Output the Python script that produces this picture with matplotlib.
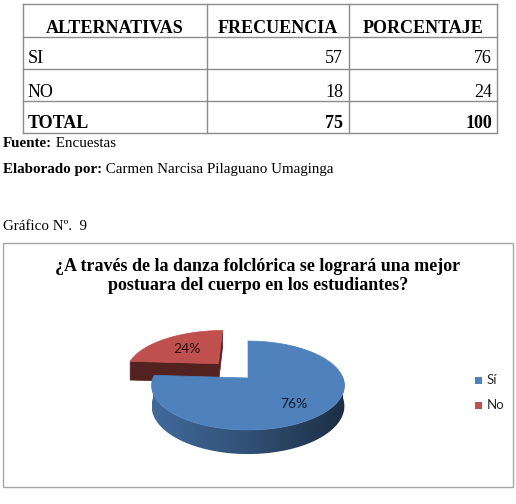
import numpy as np
import matplotlib.pyplot as plt
from matplotlib.patches import Polygon, Rectangle
from matplotlib.colors import to_rgb, LinearSegmentedColormap

# table data
headers = ["ALTERNATIVAS", "FRECUENCIA", "PORCENTAJE"]
alternativas = ["SI", "NO"]
frecuencia = [57, 18]
porcentaje = [76, 24]

# chart data
title_lines = ["¿A través de la danza folclórica se logrará una mejor",
               "postuara del cuerpo en los estudiantes?"]
legend_labels = ["Sí", "No"]
top_colors = ["#4F81BD", "#C0504D"]

SERIF = ["Liberation Serif", "DejaVu Serif"]
SANS = ["Lato", "DejaVu Sans"]

W, H = 516, 504
fig = plt.figure(figsize=(W / 100, H / 100), dpi=100)
ax = fig.add_axes([0, 0, 1, 1])
ax.set_xlim(0, W)
ax.set_ylim(H, 0)
ax.axis("off")

# ---- table ----
col_x = [23, 207, 349, 497]
row_y = [4, 37, 69, 101, 133]
grid_color = "#8c8c8c"
for y in row_y:
    ax.plot([col_x[0], col_x[-1]], [y, y], color=grid_color, lw=1)
for x in col_x:
    ax.plot([x, x], [row_y[0], row_y[-1]], color=grid_color, lw=1)

for i, h in enumerate(headers):
    ax.text((col_x[i] + col_x[i + 1]) / 2, 33, h, ha="center", va="baseline",
            fontsize=13, fontweight="bold", family=SERIF)

baselines = [63, 97]
for alt, f, p, yb in zip(alternativas, frecuencia, porcentaje, baselines):
    ax.text(col_x[0] + 5, yb, alt, ha="left", va="baseline", fontsize=13, family=SERIF)
    ax.text(col_x[2] - 6, yb, str(f), ha="right", va="baseline", fontsize=13, family=SERIF)
    ax.text(col_x[3] - 5, yb, str(p), ha="right", va="baseline", fontsize=13, family=SERIF)

ax.text(col_x[0] + 5, 128, "TOTAL", ha="left", va="baseline", fontsize=13,
        fontweight="bold", family=SERIF)
ax.text(col_x[2] - 6, 128, str(sum(frecuencia)), ha="right", va="baseline",
        fontsize=13, fontweight="bold", family=SERIF)
ax.text(col_x[3] - 5, 128, str(sum(porcentaje)), ha="right", va="baseline",
        fontsize=13, fontweight="bold", family=SERIF)

# ---- notes ----
t = ax.text(3, 147, "Fuente:", ha="left", va="baseline", fontsize=10.8,
            fontweight="bold", family=SERIF)
ax.annotate(" Encuestas", xycoords=t, xy=(1, 0), va="bottom", ha="left",
            fontsize=10.8, family=SERIF)
t = ax.text(3, 173, "Elaborado por:", ha="left", va="baseline", fontsize=10.8,
            fontweight="bold", family=SERIF)
ax.annotate(" Carmen Narcisa Pilaguano Umaginga", xycoords=t, xy=(1, 0),
            va="bottom", ha="left", fontsize=10.8, family=SERIF)
ax.text(3, 230, "Gráfico N\u00ba.  9", ha="left", va="baseline", fontsize=10.8,
        family=SERIF)

# ---- chart frame ----
ax.add_patch(Rectangle((3, 243), 510, 244, fill=False, edgecolor="#a6a6a6", lw=1))
ax.text(258, 271, title_lines[0], ha="center", va="baseline",
        fontsize=13, fontweight="bold", family=SERIF)
ax.text(258, 290, title_lines[1], ha="center", va="baseline",
        fontsize=13, fontweight="bold", family=SERIF)

# ---- 3D pie (simple perspective projection) ----
cx, cy = 248, 378
rx, a, b, depth = 95, 43.2, 0.169, 20
explode = [0.0, 0.48]


def proj(u, v, z=0.0):
    s = 1.0 / (1.0 + b * v)
    return cx + rx * u * s, cy - a * v * s + depth * z * s


def shade(color, f):
    return tuple(np.array(to_rgb(color)) * f)


fracs = np.array(porcentaje) / sum(porcentaje)
starts = 90 - 360 * np.concatenate([[0], np.cumsum(fracs)[:-1]])
ends = starts - 360 * fracs

# draw back to front: exploded "No" slice first
for idx in [1, 0]:
    t0, t1 = ends[idx], starts[idx]
    mid = np.radians((t0 + t1) / 2)
    ou, ov = explode[idx] * np.cos(mid), explode[idx] * np.sin(mid)
    col = top_colors[idx]

    # outer wall, front half only, with a left-to-right shading gradient
    lo, hi = max(t0, -180), min(t1, 0)
    if lo < hi:
        th = np.radians(np.linspace(lo, hi, 150))
        upper = [proj(ou + np.cos(q), ov + np.sin(q)) for q in th]
        lower = [proj(ou + np.cos(q), ov + np.sin(q), 1) for q in th[::-1]]
        wall = Polygon(upper + lower, closed=True, facecolor="none", edgecolor="none")
        ax.add_patch(wall)
        xs = [p[0] for p in upper]
        ys = [p[1] for p in upper + lower]
        cmap = LinearSegmentedColormap.from_list(
            "wall", [shade(col, 0.82), shade(col, 0.62), shade(col, 0.36)])
        grad = np.linspace(0, 1, 256).reshape(1, -1)
        im = ax.imshow(grad, cmap=cmap, aspect="auto",
                       extent=[min(xs), max(xs), max(ys) + 1, min(ys) - 1],
                       interpolation="bilinear")
        im.set_clip_path(wall)

    # visible radial faces of the exploded slice
    if idx == 1:
        for ang in [t1, t0]:
            r = np.radians(ang)
            face = [proj(ou, ov), proj(ou + np.cos(r), ov + np.sin(r)),
                    proj(ou + np.cos(r), ov + np.sin(r), 1), proj(ou, ov, 1)]
            ax.add_patch(Polygon(face, closed=True, facecolor=shade(col, 0.42),
                                 edgecolor=shade(col, 0.42), lw=0.5))

    # top face
    th = np.radians(np.linspace(t0, t1, 200))
    pts = [proj(ou, ov)] + [proj(ou + np.cos(q), ov + np.sin(q)) for q in th]
    ax.add_patch(Polygon(pts, closed=True, facecolor=col, edgecolor=col, lw=0.5))

# percentage labels
ax.text(186.5, 349, f"{porcentaje[1]}%", ha="center", va="center", fontsize=10,
        color="#2a1010", family=SANS)
ax.text(294, 404, f"{porcentaje[0]}%", ha="center", va="center", fontsize=10,
        color="#0f1a2a", family=SANS)

# legend
for i, (lab, col) in enumerate(zip(legend_labels, top_colors)):
    y = 380 + 25 * i
    ax.add_patch(Rectangle((475, y - 3.5), 7, 7, facecolor=col, edgecolor="none"))
    ax.text(487, y, lab, ha="left", va="center", fontsize=9.5, color="#262626",
            family=SANS)

fig.savefig("out.png", dpi=100)
